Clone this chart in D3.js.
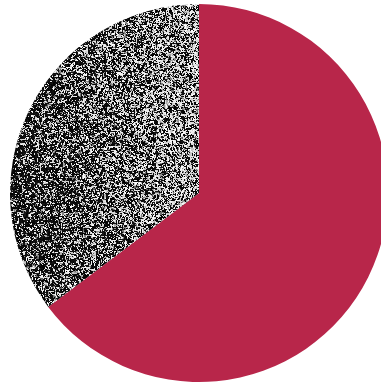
<!DOCTYPE html>
<html><head><meta charset="utf-8">
<script src="https://cdn.jsdelivr.net/npm/d3@7"></script>
<style>html,body{margin:0;padding:0;background:#fff;}svg{display:block;}</style>
</head><body>
<svg id="chart" width="381" height="383"></svg>
<script>
const categories = ["A", "B"];
const values = [64.7, 35.3];
const W = 381, H = 383;
const cx = 199, cy = 193, R = 189;

// seeded noise texture
function mulberry32(a){return function(){a|=0;a=a+0x6D2B79F5|0;let t=Math.imul(a^a>>>15,1|a);t=t+Math.imul(t^t>>>7,61|t)^t;return((t^t>>>14)>>>0)/4294967296;}}
const rnd = mulberry32(12345);
const cv = document.createElement("canvas");
cv.width = W; cv.height = H;
const ctx = cv.getContext("2d");
const img = ctx.createImageData(W, H);
for (let y = 0; y < H; y++) {
  for (let x = 0; x < W; x++) {
    const i = (y * W + x) * 4;
    let v;
    const c = rnd();
    if (x > 0 && y > 0 && c < 0.3) {
      v = c < 0.15 ? img.data[i - 4] : img.data[i - W * 4];
    } else {
      const t = Math.max(0, Math.min(1, (x - 11) / 188));
      const p = 0.18 + 0.32 * t;
      const r = rnd();
      if (r < p) v = 255 - Math.floor(rnd() * 60);
      else if (r < p + 0.12) v = 90 + Math.floor(rnd() * 90);
      else v = Math.floor(rnd() * 25);
    }
    img.data[i] = img.data[i+1] = img.data[i+2] = v; img.data[i+3] = 255;
  }
}
ctx.putImageData(img, 0, 0);

const svg = d3.select("#chart");
const defs = svg.append("defs");
const pat = defs.append("pattern").attr("id", "noise")
  .attr("patternUnits", "userSpaceOnUse").attr("width", W).attr("height", H)
  .attr("patternTransform", `translate(${-cx},${-cy})`);
pat.append("image").attr("href", cv.toDataURL()).attr("width", W).attr("height", H)
  .attr("style", "image-rendering:pixelated");

const color = d3.scaleOrdinal().domain(categories).range(["#b8264a", "url(#noise)"]);
const pie = d3.pie().sort(null).value((d, i) => values[i]);
const arc = d3.arc().innerRadius(0).outerRadius(R);

svg.append("g").attr("transform", `translate(${cx},${cy})`)
  .selectAll("path").data(pie(categories)).join("path")
  .attr("d", arc)
  .attr("fill", d => color(d.data));
</script>
</body></html>
